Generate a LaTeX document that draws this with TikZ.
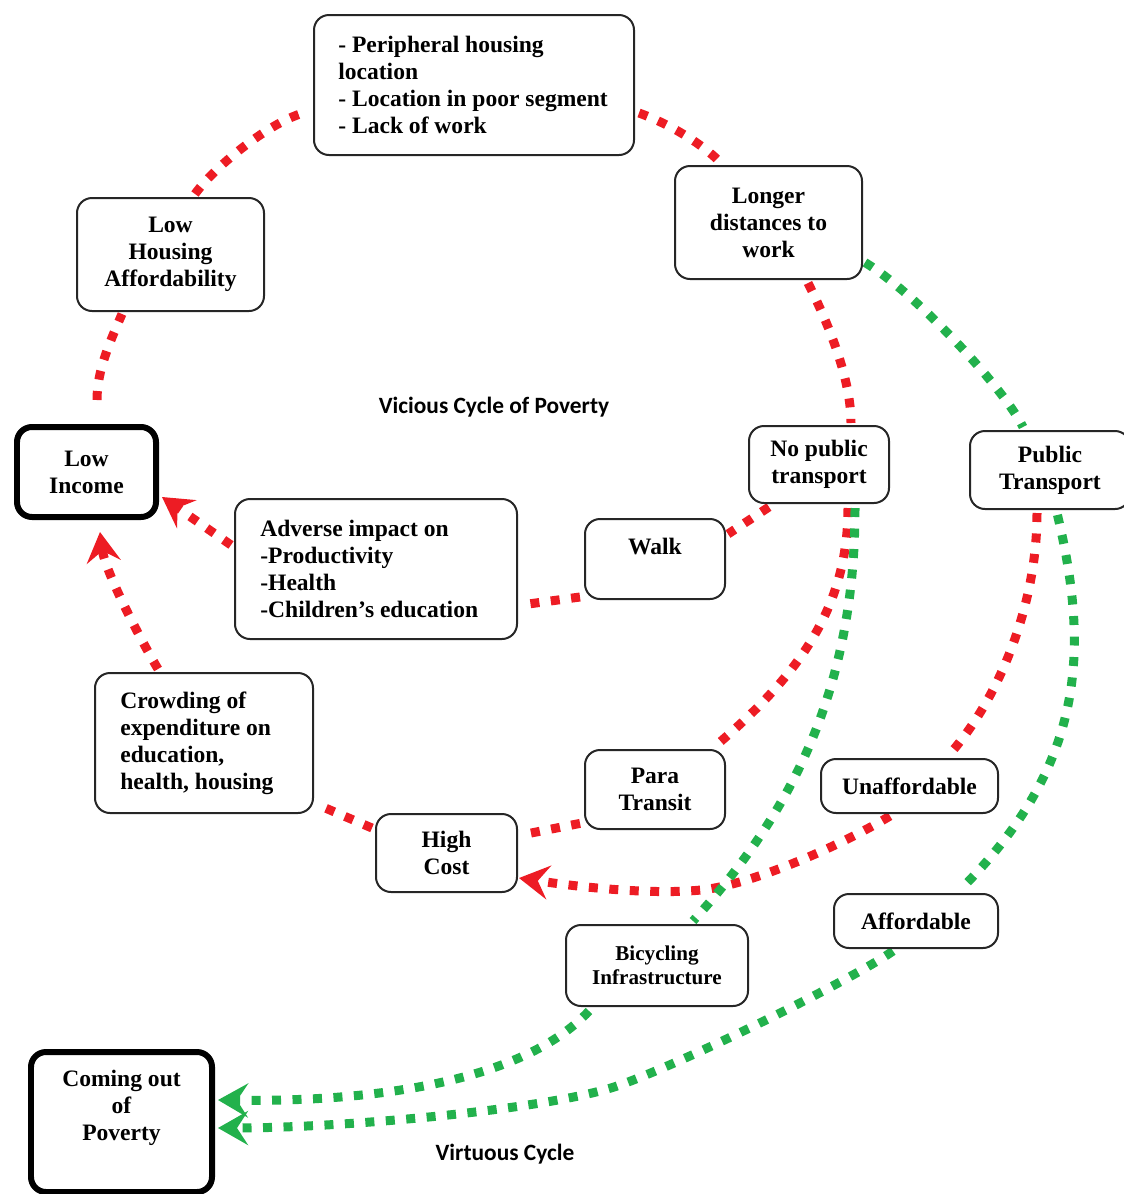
\documentclass[tikz,border=0pt]{standalone}
\usepackage{fontspec}
\setmainfont{Liberation Serif}
\newfontfamily\capfont{Carlito}
\usetikzlibrary{arrows.meta,calc}
\pgfdeclarelayer{bg}
\pgfsetlayers{bg,main}
\definecolor{vred}{RGB}{237,28,36}
\definecolor{vgreen}{RGB}{34,177,76}
\newcommand\mainfnt{\bfseries\fontsize{13.4}{15.4}\selectfont}
\newcommand\smallfnt{\bfseries\fontsize{12}{13.7}\selectfont}
\tikzset{
  box/.style={draw=black!85, line width=0.04cm, rounded corners=0.3cm, fill=white, inner sep=0pt, align=center, font=\mainfnt},
  thickbox/.style={box, draw=black, line width=0.12cm},
  sz/.style 2 args={minimum width=#1*0.02cm, minimum height=#2*0.02cm},
  txt/.style={inner sep=0pt, align=left, font=\mainfnt},
  caplabel/.style={inner sep=0pt, font=\capfont\bfseries\fontsize{13.3}{16}\selectfont},
  reddots/.style={draw=vred, line width=0.18cm, dash pattern=on 0.18cm off 0.23cm},
  greendots/.style={draw=vgreen, line width=0.18cm, dash pattern=on 0.18cm off 0.23cm},
  arrowend/.style={-{Stealth[length=0.6cm,width=0.68cm,inset=0.22cm]}}
}
\begin{document}
\begin{tikzpicture}[x=0.02cm,y=-0.02cm]
\useasboundingbox (0,0) rectangle (1124,1194);
\clip (0,0) rectangle (1124,1194);

% boxes
\node[box, sz={320}{140}] (top) at (474,85) {};
\node[txt, anchor=west] (toptext) at (338,85) {- Peripheral housing\\location\\- Location in poor segment\\- Lack of work};
\node[box, sz={187}{113}] (longer) at (768.5,222.5) {Longer\\distances to\\work};
\node[box, sz={187}{113}] (lowhous) at (170.5,254.5) {Low\\Housing\\Affordability};
\node[thickbox, sz={139}{90}] (lowinc) at (86.5,472) {Low\\Income};
\node[box, sz={140}{77}] (nopub) at (819,464.5) {No public\\transport};
\node[box, sz={160}{78}] (pubt) at (1050,470) {Public\\Transport};
\node[box, sz={282}{140}] (adverse) at (376,569) {};
\node[txt, anchor=west] (adversetext) at (260,569) {Adverse impact on\\-Productivity\\-Health\\-Children’s education};
\node[box, sz={140}{80}, text height=0.34cm, text depth=0.54cm] (walk) at (655,559) {Walk};
\node[box, sz={218}{140}] (crowd) at (204,743) {};
\node[txt, anchor=west] (crowdtext) at (120,743) {Crowding of\\expenditure on\\education,\\health, housing};
\node[box, sz={140}{79}] (para) at (655,789.5) {Para\\Transit};
\node[box, sz={141}{78}] (high) at (446.5,853) {High\\Cost};
\node[box, sz={177}{54}] (unaff) at (909.5,786) {Unaffordable};
\node[box, sz={164}{54}] (aff) at (916,921) {Affordable};
\node[box, sz={182}{81}, font=\smallfnt] (bicyc) at (657,965.5) {Bicycling\\Infrastructure};
\node[thickbox, sz={181}{140}] (cop) at (121.5,1122) {};
\node[txt, align=center] (copt) at (121.5,1108) {Coming out\\of\\Poverty};
\node[caplabel] (vicious) at (494,407) {Vicious Cycle of Poverty};
\node[caplabel] (virtuous) at (505,1154) {Virtuous Cycle};

\begin{pgfonlayer}{bg}
% red connectors
\draw[reddots] ($(lowinc.north)+(10.5,-24)$) .. controls +(0,-30) and +(-12,28) .. ($(lowhous.south)+(-48.5,2)$);
\draw[reddots] ($(lowhous.north)+(24.5,-3)$) .. controls +(20,-28) and +(-35,8) .. ($(top.west)+(-6,27)$);
\draw[reddots] ($(top.east)+(4,28)$) .. controls +(28,10) and +(-20,-20) .. ($(longer.north)+(-48.5,-3)$);
\draw[reddots] ($(longer.south)+(39.5,3)$) .. controls +(20,40) and +(0,-45) .. ($(nopub.north)+(32,-2)$);
\draw[reddots] ($(nopub.south west)+(21,3)$) -- ($(walk.north east)+(2,16)$);
\draw[reddots] ($(walk.south west)+(-4,-3)$) -- ($(adverse.east)+(3,36)$);
\draw[reddots, arrowend] ($(adverse.west)+(-3,-24)$) -- ($(lowinc.east)+(3,25)$);
\draw[reddots] ($(nopub.south)+(29,4)$) .. controls +(0,102) and +(83,-70) .. ($(para.north east)+(-13,-1)$);
\draw[reddots, dash phase=0.37cm] ($(para.south west)+(-2,-7)$) -- ($(high.east)+(3,-18)$);
\draw[reddots] ($(high.west)+(-3,-25)$) -- ($(crowd.south east)+(2,-10)$);
\draw[reddots, arrowend] ($(crowd.north)+(-46,-3)$) .. controls +(-15,-25) and +(5,40) .. ($(lowinc.south)+(13.5,12)$);
\draw[reddots] ($(pubt.south)+(-13,3)$) .. controls +(0,98) and +(47,-52) .. ($(unaff.north)+(38.5,-2)$);
\draw[reddots, arrowend] ($(unaff.south)+(-19.5,2)$) .. controls +(-50,30) and +(50,-5) .. ($(high.east)+(183,37)$) .. controls +(-50,5) and +(60,9) .. ($(high.east)+(1,25)$);
% green connectors
\draw[greendots] ($(longer.east)+(2,40)$) .. controls +(50,30) and +(-20,-40) .. ($(pubt.north)+(-27,-3)$);
\draw[greendots] ($(nopub.south)+(36,4)$) .. controls +(0,180) and +(100,-110) .. ($(bicyc.north)+(36,-3)$);
\draw[greendots, dash phase=0.37cm] ($(pubt.south)+(7,3)$) .. controls +(33,138) and +(125,-125) .. ($(aff.north)+(44,-3)$);
\draw[greendots, arrowend] ($(bicyc.south west)+(24,4)$) .. controls +(-70,75) and +(140,2) .. ($(cop.north east)+(3,51)$);
\draw[greendots, arrowend] ($(aff.south)+(-23,2)$) .. controls +(-40,28) and +(70,-25) .. ($(aff.south)+(-296,136)$) .. controls +(-70,25) and +(120,0) .. ($(cop.north east)+(3,79)$);
\end{pgfonlayer}
\end{tikzpicture}
\end{document}
